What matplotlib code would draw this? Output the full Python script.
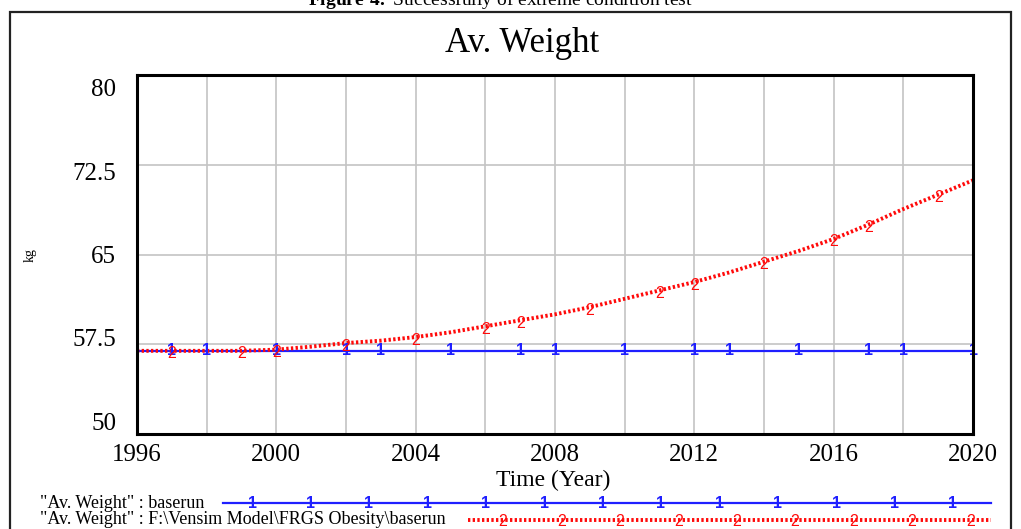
import matplotlib
matplotlib.use("Agg")
import matplotlib.pyplot as plt
import matplotlib.transforms as mtransforms
from matplotlib.lines import Line2D
from matplotlib.patches import Rectangle
import numpy as np

plt.rcParams["font.family"] = ["Liberation Serif", "DejaVu Serif"]
plt.rcParams["mathtext.fontset"] = "custom"
plt.rcParams["mathtext.rm"] = "Liberation Serif"
plt.rcParams["mathtext.bf"] = "Liberation Serif:bold"

# data
years = list(range(1996, 2021))
baserun = [56.95] * len(years)
extreme = [56.95, 56.95, 56.95, 56.95, 57.05, 57.3, 57.6, 57.8, 58.1, 58.5,
           59.0, 59.5, 60.0, 60.6, 61.3, 62.0, 62.7, 63.5, 64.4, 65.3,
           66.3, 67.5, 68.8, 70.0, 71.2]
marker1_years = [1997, 1998, 2000, 2002, 2003, 2005, 2007, 2008, 2010,
                 2012, 2013, 2015, 2017, 2018, 2020]
marker2_years = [1997, 1999, 2000, 2002, 2004, 2006, 2007, 2009, 2011,
                 2012, 2014, 2016, 2017, 2019]
y_ticks = [50, 57.5, 65, 72.5, 80]
x_ticks = [1996, 2000, 2004, 2008, 2012, 2016, 2020]
legend_labels = ['"Av. Weight" : baserun',
                 '"Av. Weight" : F:\\Vensim Model\\FRGS Obesity\\baserun']

BLUE = "#1f1fff"
RED = "#ff0a0a"
W, H = 1021, 529

fig = plt.figure(figsize=(W / 100, H / 100), dpi=100)


def fx(px):
    return px / W


def fy(py):
    return 1 - py / H


# outer frame and caption (caption is cut by the top edge, as in the source)
fig.patches.append(Rectangle((fx(10), -0.2), fx(1001), fy(12) + 0.2,
                             transform=fig.transFigure, fill=False,
                             edgecolor="#222222", linewidth=1.6))
fig.text(0.49, fy(5), r"$\mathbf{Figure\ 4.}$ Successfully of extreme condition test",
         ha="center", va="baseline", fontsize=14)

ax = fig.add_axes([fx(137), fy(434), fx(973 - 137), fy(75) - fy(434)])
ax.set_xlim(1996, 2020)
ax.set_ylim(50, 80)

ax.plot(years, baserun, color=BLUE, lw=1.6, zorder=3)
ax.plot(years, extreme, color=RED, lw=2.8, linestyle=(0, (0.6, 0.6)), zorder=4)

idx = {y: i for i, y in enumerate(years)}
for yr in marker1_years:
    ax.text(yr, baserun[idx[yr]], "1", color=BLUE, family="Liberation Sans",
            fontsize=11.5, fontweight="bold", ha="center", va="center",
            zorder=5, clip_on=False)
for yr in marker2_years:
    ax.text(yr, extreme[idx[yr]] - 0.25, "2", color=RED, family="Liberation Sans",
            fontsize=11.5, ha="center", va="center", zorder=5, clip_on=False)

ax.set_xticks(x_ticks)
ax.set_xticks(range(1996, 2021, 2), minor=True)
ax.set_yticks(y_ticks)
ax.set_yticklabels([f"{v:g}" for v in y_ticks])
ax.grid(True, which="both", color="#c4c4c4", lw=1.2)
ax.tick_params(which="both", length=0)
ax.tick_params(axis="x", labelsize=18, pad=7)
ax.tick_params(axis="y", labelsize=18, pad=15)
for sp in ax.spines.values():
    sp.set_linewidth(2.2)
    sp.set_zorder(6)

# Vensim pulls the y labels toward the middle of the axis
for lab, v in zip(ax.get_yticklabels(), y_ticks):
    dy = (v - 65) / 15 * 13
    off = mtransforms.ScaledTranslation(0, -dy / 100, fig.dpi_scale_trans)
    lab.set_transform(lab.get_transform() + off)

fig.text(fx(522), fy(44), "Av. Weight", ha="center", va="center", fontsize=25)
fig.text(fx(553), fy(480), "Time (Year)", ha="center", va="center", fontsize=17)
fig.text(fx(30), fy(255), "kg", ha="center", va="center", rotation=90, fontsize=10)

# legend rows, drawn like Vensim does
rows = [(503, 223, 252, 13, BLUE, "1", {"lw": 1.6}),
        (520, 468, 503, 9, RED, "2", {"lw": 2.8, "linestyle": (0, (0.6, 0.6))})]
for (py, x0, m0, n, col, tag, style), label in zip(rows, legend_labels):
    fig.text(fx(40), fy(py), label, ha="left", va="center", fontsize=13)
    fig.add_artist(Line2D([fx(x0), fx(991)], [fy(py), fy(py)], color=col,
                          transform=fig.transFigure, **style))
    for k in range(n):
        fig.text(fx(m0 + k * 58.4), fy(py + (2 if tag == "2" else 0)), tag, color=col,
                 family="Liberation Sans", fontsize=11.5,
                 fontweight="bold" if tag == "1" else "normal",
                 ha="center", va="center")

fig.savefig("out.png", dpi=100)
